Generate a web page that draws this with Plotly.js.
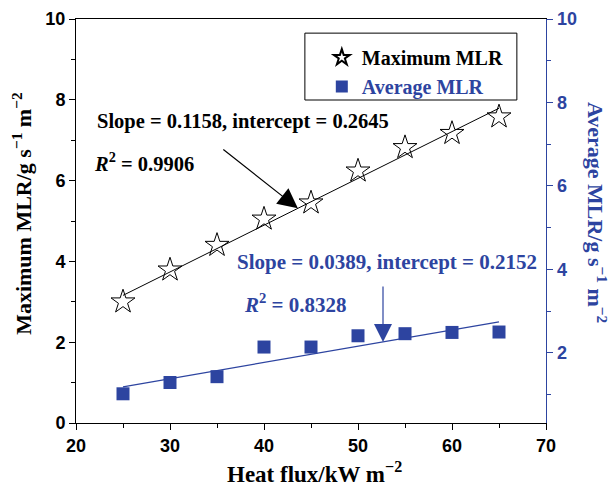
<!DOCTYPE html>
<html>
<head>
<meta charset="utf-8">
<script src="https://cdn.plot.ly/plotly-3.0.1.min.js"></script>
<style>html,body{margin:0;padding:0;background:#fff;}#chart{width:611px;height:490px;}</style>
</head>
<body>
<div id="chart"></div>
<script>
// Data
const heatFlux = [25, 30, 35, 40, 45, 50, 55, 60, 65];
const maxMLR = [3.0, 3.79, 4.4, 5.05, 5.45, 6.24, 6.82, 7.17, 7.58];
const avgMLR = [1.02, 1.29, 1.43, 2.14, 2.14, 2.41, 2.46, 2.49, 2.50];
// Fit parameters printed on the chart
const maxFit = {slope: 0.1158, intercept: 0.2645, r2: '0.9906'};
const avgFit = {slope: 0.0389, intercept: 0.2152, r2: '0.8328'};
const fitX = [25, 65];

const BLUE = '#2d44a0';
const serif = 'Liberation Serif, Times New Roman, serif';
const sans = 'Liberation Sans, Arial, sans-serif';

const maxFitY = fitX.map(x => maxFit.slope * x + maxFit.intercept);
const avgFitY = fitX.map(x => avgFit.slope * x + avgFit.intercept);

const traces = [
  {x: fitX, y: maxFitY, mode: 'lines', line: {color: '#000', width: 1}, showlegend: false, hoverinfo: 'skip'},
  {x: fitX, y: avgFitY, mode: 'lines', yaxis: 'y2', line: {color: BLUE, width: 1.3}, showlegend: false, hoverinfo: 'skip'},
  {x: heatFlux, y: maxMLR, mode: 'markers', name: 'Maximum MLR',
   marker: {symbol: 'star-open', size: 18, color: '#000', line: {width: 1, color: '#000'}}},
  {x: heatFlux, y: avgMLR, mode: 'markers', yaxis: 'y2', name: '<span style="color:' + BLUE + '">Average MLR</span>',
   marker: {symbol: 'square', size: 13, color: BLUE}}
];

// arrow tips on the fit lines
const blackTipX = 43.6, blueTipX = 52.66;

const layout = {
  width: 611, height: 490,
  margin: {l: 76, r: 65, t: 19, b: 67},
  paper_bgcolor: '#fff', plot_bgcolor: '#fff',
  showlegend: true,
  legend: {x: 0.523, y: 0.953, xanchor: 'left', yanchor: 'top', borderwidth: 0,
           bgcolor: 'rgba(0,0,0,0)', itemsizing: 'constant',
           font: {family: serif, size: 20, color: '#000', weight: 'bold'}},
  shapes: [
    {type: 'rect', xref: 'paper', yref: 'paper', x0: 0.487, x1: 0.938, y0: 0.7995, y1: 0.965,
     line: {color: '#000', width: 1}, fillcolor: 'rgba(0,0,0,0)', layer: 'below'}
  ],
  xaxis: {range: [20, 70], dtick: 10, tick0: 20, ticks: 'outside', ticklen: 6, tickwidth: 1, tickcolor: '#000',
          minor: {dtick: 5, ticks: 'outside', ticklen: 4, tickcolor: '#000'},
          showline: true, linecolor: '#000', linewidth: 1, mirror: true, showgrid: false, zeroline: false,
          tickfont: {family: sans, size: 18, color: '#000', weight: 'bold'}},
  yaxis: {range: [0, 10], dtick: 2, ticks: 'outside', ticklen: 6, tickwidth: 1, tickcolor: '#000',
          minor: {dtick: 1, ticks: 'outside', ticklen: 4, tickcolor: '#000'},
          showline: true, linecolor: '#000', linewidth: 1, showgrid: false, zeroline: false,
          tickfont: {family: sans, size: 18, color: '#000', weight: 'bold'}},
  yaxis2: {overlaying: 'y', side: 'right', range: [0.32, 10], tickvals: [2, 4, 6, 8, 10], ticks: 'outside', ticklen: 6,
           tickwidth: 1, tickcolor: BLUE,
           minor: {tickvals: [1, 3, 5, 7, 9], ticks: 'outside', ticklen: 4, tickcolor: BLUE},
           showline: true, linecolor: BLUE, linewidth: 1.3, showgrid: false, zeroline: false,
           tickfont: {family: sans, size: 18, color: BLUE, weight: 'bold'}},
  annotations: [
    {xref: 'paper', yref: 'paper', x: 0.507, y: -0.122, xanchor: 'center', yanchor: 'middle',
     text: 'Heat flux/kW m<sup>−2</sup>',
     showarrow: false, font: {family: serif, size: 23, color: '#000', weight: 'bold'}},
    {xref: 'paper', yref: 'paper', x: -0.115, y: 0.52, xanchor: 'center', yanchor: 'middle',
     text: 'Maximum MLR/g s<sup>−1</sup> m<sup>−2</sup>', textangle: -90,
     showarrow: false, font: {family: serif, size: 22, color: '#000', weight: 'bold'}},
    {xref: 'paper', yref: 'paper', x: 1.1085, y: 0.52, xanchor: 'center', yanchor: 'middle',
     text: 'Average MLR/g s<sup>−1</sup> m<sup>−2</sup>', textangle: 90,
     showarrow: false, font: {family: serif, size: 22, color: BLUE, weight: 'bold'}},
    {xref: 'paper', yref: 'paper', x: 0.040, y: 0.746, xanchor: 'left', yanchor: 'middle', showarrow: false,
     text: 'Slope = ' + maxFit.slope + ', intercept = ' + maxFit.intercept,
     font: {family: serif, size: 20.5, color: '#000', weight: 'bold'}},
    {xref: 'paper', yref: 'paper', x: 0.034, y: 0.647, xanchor: 'left', yanchor: 'middle', showarrow: false,
     text: '<i>R</i><sup>2</sup> = ' + maxFit.r2,
     font: {family: serif, size: 20.5, color: '#000', weight: 'bold'}},
    {xref: 'paper', yref: 'paper', x: 0.338, y: 0.399, xanchor: 'left', yanchor: 'middle', showarrow: false,
     text: 'Slope = ' + avgFit.slope + ', intercept = ' + avgFit.intercept,
     font: {family: serif, size: 21, color: BLUE, weight: 'bold'}},
    {xref: 'paper', yref: 'paper', x: 0.353, y: 0.297, xanchor: 'left', yanchor: 'middle', showarrow: false,
     text: '<i>R</i><sup>2</sup> = ' + avgFit.r2,
     font: {family: serif, size: 21, color: BLUE, weight: 'bold'}},
    {xref: 'x', yref: 'y', x: blackTipX, y: maxFit.slope * blackTipX + maxFit.intercept, text: '', showarrow: true,
     ax: -76, ay: -60, arrowhead: 2, arrowsize: 3.3, arrowwidth: 1.2, arrowcolor: '#000'},
    {xref: 'x', yref: 'y2', x: blueTipX, y: avgFit.slope * blueTipX + avgFit.intercept, text: '', showarrow: true,
     ax: 0, ay: -57, arrowhead: 2, arrowsize: 3, arrowwidth: 1.2, arrowcolor: BLUE}
  ]
};

Plotly.newPlot('chart', traces, layout, {displayModeBar: false, staticPlot: true});
</script>
</body>
</html>
